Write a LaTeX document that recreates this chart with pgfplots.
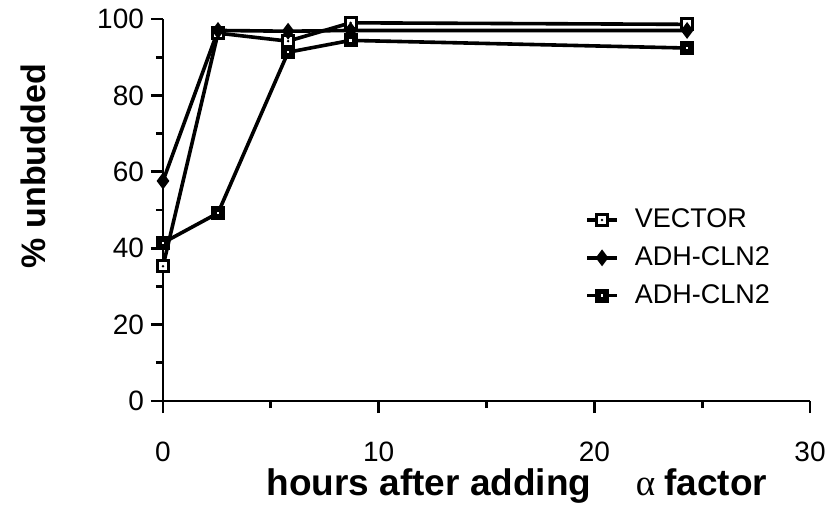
\documentclass[border=0pt]{standalone}
\usepackage{pgfplots}
\pgfplotsset{compat=1.18}
\usepackage{fontspec}
\setmainfont{Liberation Sans}
\newfontfamily\alphafont{Liberation Serif}
\pgfdeclareplotmark{vec}{%
 \pgfsetfillcolor{white}%
 \pgfpathrectangle{\pgfpoint{-\pgfplotmarksize}{-\pgfplotmarksize}}{\pgfpoint{2\pgfplotmarksize}{2\pgfplotmarksize}}%
 \pgfusepathqfillstroke
 \pgfsetfillcolor{black}%
 \pgfpathcircle{\pgfpointorigin}{0.7pt}\pgfusepathqfill}
\pgfdeclareplotmark{adhsq}{%
 \pgfsetfillcolor{black}%
 \pgfpathrectangle{\pgfpoint{-\pgfplotmarksize}{-\pgfplotmarksize}}{\pgfpoint{2\pgfplotmarksize}{2\pgfplotmarksize}}%
 \pgfusepathqfillstroke
 \pgfsetfillcolor{white}%
 \pgfpathrectangle{\pgfpoint{-0.6pt}{-0.6pt}}{\pgfpoint{1.2pt}{1.2pt}}\pgfusepathqfill}
\begin{document}
\begin{tikzpicture}
\begin{axis}[
  scale only axis, width=323.5pt, height=191pt,
  xmin=0, xmax=30, ymin=0, ymax=100,
  axis x line*=bottom, axis y line*=left,
  axis line style={line width=1.4pt},
  xtick={0,10,20,30}, minor xtick={5,15,25},
  ytick={0,20,40,60,80,100}, minor ytick={10,30,50,70,90},
  tick align=outside,
  major tick length=6pt, minor tick length=3.5pt,
  every tick/.style={line width=1.4pt, black},
  /pgf/number format/assume math mode=true,
  tick label style={font=\fontsize{14}{16}\selectfont},
  xticklabel style={yshift=-11pt},
  xlabel={\textbf{hours after adding}\hspace{1.2em}{\alphafont α}\hspace{0.25em}\textbf{factor}},
  ylabel={\textbf{\% unbudded}},
  xlabel style={font=\fontsize{18.5}{22}\selectfont, at={(axis description cs:0.547,-0.222)}, anchor=center},
  ylabel style={font=\fontsize{17}{20}\selectfont, at={(axis description cs:-0.2,0.615)}, anchor=center},
  clip=false,
  legend style={draw=none, fill=none, at={(rel axis cs:0.652,0.514)}, anchor=north west,
    font=\fontsize{13.5}{16}\selectfont, row sep=4pt, inner sep=0pt,
    /tikz/every odd column/.append style={column sep=6pt}},
  legend cell align=left,
  legend image code/.code={\draw[mark repeat=2,mark phase=2] plot coordinates {(0pt,0pt)(7.5pt,0pt)(15pt,0pt)};},
  every axis plot/.append style={line width=1.8pt, black},
]
\addplot[mark=vec, mark size=2.8pt, mark options={line width=1.5pt}] coordinates {
(0,35.3) (2.55,96.3) (5.8,94.2) (8.7,99.0) (24.3,98.6)};
\addlegendentry{VECTOR}
\addplot[mark=diamond*, mark size=3.4pt, mark options={line width=1pt, fill=black}] coordinates {
(0,57.6) (2.55,97.0) (5.8,96.8) (8.7,97.0) (24.3,97.0)};
\addlegendentry{ADH-CLN2}
\addplot[mark=adhsq, mark size=2.8pt, mark options={line width=1.5pt}] coordinates {
(0,41.4) (2.55,49.2) (5.8,91.3) (8.7,94.4) (24.3,92.4)};
\addlegendentry{ADH-CLN2}
\end{axis}
\pgfresetboundingbox
\path[use as bounding box] (-81.5pt,-53pt) rectangle (335pt,200.5pt);
\end{tikzpicture}
\end{document}
